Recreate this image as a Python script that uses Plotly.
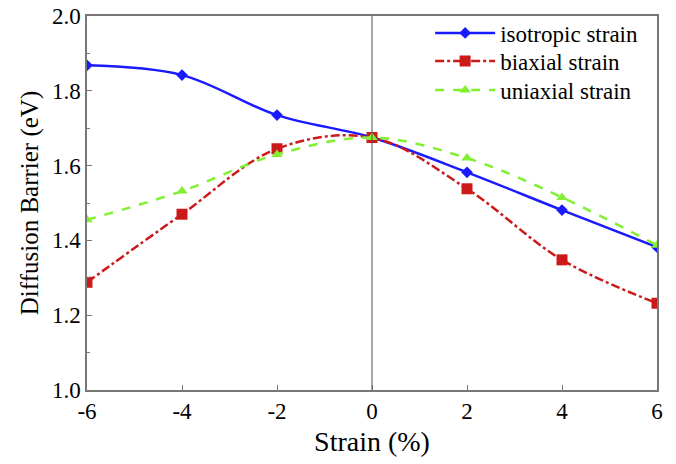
import plotly.graph_objects as go

strain = [-6, -4, -2, 0, 2, 4, 6]
isotropic = [1.868, 1.842, 1.735, 1.675, 1.582, 1.481, 1.382]
biaxial = [1.288, 1.470, 1.645, 1.675, 1.538, 1.348, 1.232]
uniaxial = [1.455, 1.532, 1.630, 1.675, 1.620, 1.515, 1.387]

font = "Liberation Serif, Times New Roman, serif"
fig = go.Figure()
fig.add_trace(go.Scatter(x=strain, y=isotropic, name="isotropic strain", mode="lines+markers",
                         legend="legend",
                         line=dict(color="#1a1aff", width=2.5, shape="spline"),
                         marker=dict(symbol="diamond", size=9, color="#1a1aff")))
fig.add_trace(go.Scatter(x=strain, y=biaxial, name="biaxial strain", mode="lines+markers",
                         legend="legend2",
                         line=dict(color="#cc1a1a", width=2.5, dash="dashdot", shape="spline"),
                         marker=dict(symbol="square", size=11, color="#cc1a1a")))
fig.add_trace(go.Scatter(x=strain, y=uniaxial, name="uniaxial strain", mode="lines+markers",
                         legend="legend3",
                         line=dict(color="#80f030", width=2.5, dash="dash", shape="spline"),
                         marker=dict(symbol="triangle-up", size=10, color="#80f030")))

fig.add_vline(x=0, line=dict(color="#555555", width=1))

leg = dict(x=0.602, xanchor="left", yanchor="middle", font=dict(size=23),
           bgcolor="rgba(0,0,0,0)", itemwidth=60)

fig.update_layout(
    width=676, height=464,
    margin=dict(l=87, r=19, t=15, b=74),
    paper_bgcolor="white", plot_bgcolor="white",
    font=dict(family=font, size=23, color="black"),
    showlegend=True,
    legend=dict(leg, y=0.952),
    legend2=dict(leg, y=0.877),
    legend3=dict(leg, y=0.800),
    xaxis=dict(range=[-6, 6], tickvals=strain, ticktext=[str(v) for v in strain],
               title=dict(text="Strain (%)", font=dict(size=28), standoff=8),
               automargin=False,
               showgrid=False, zeroline=False, showline=True, mirror=True,
               linecolor="#777777", linewidth=1.5, ticks="inside", ticklen=5, tickcolor="#777777"),
    yaxis=dict(range=[1.0, 2.0], tickvals=[1.0, 1.2, 1.4, 1.6, 1.8, 2.0],
               ticktext=["1.0", "1.2", "1.4", "1.6", "1.8", "2.0"],
               title=dict(text="Diffusion Barrier (eV)", font=dict(size=25), standoff=6),
               automargin=False,
               showgrid=False, zeroline=False, showline=True, mirror=True,
               linecolor="#777777", linewidth=1.5, ticks="inside", ticklen=5, tickcolor="#777777",
               minor=dict(tickvals=[1.1, 1.3, 1.5, 1.7, 1.9], ticks="inside", ticklen=3, tickcolor="#777777")),
)
fig.write_html("out.html", config={"displayModeBar": False},
               post_script="document.body.style.margin='0';")
